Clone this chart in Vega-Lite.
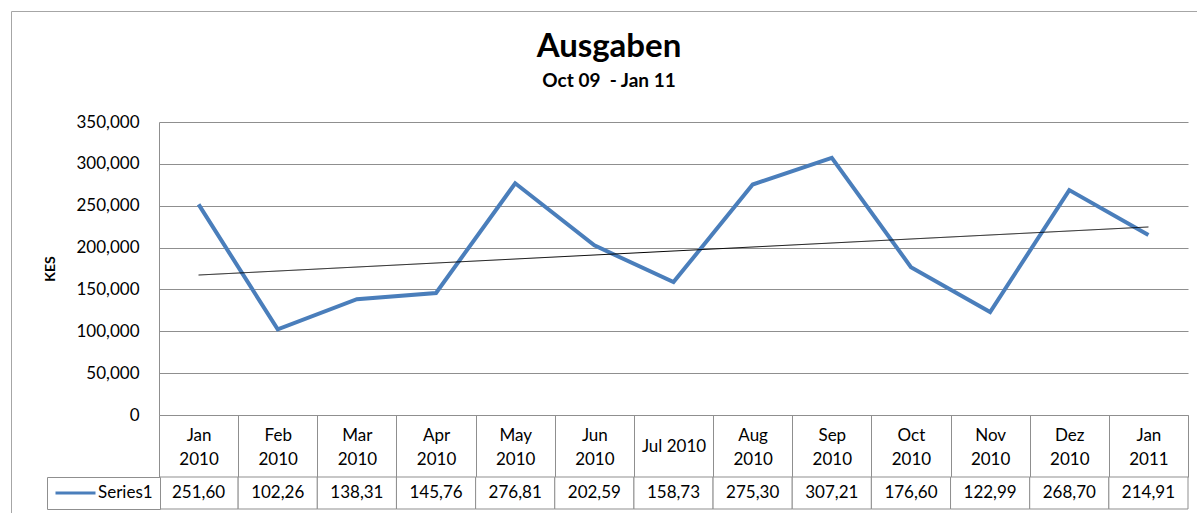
{
  "$schema": "https://vega.github.io/schema/vega-lite/v6.json",
  "background": "white",
  "padding": {"left": 10, "top": 10, "right": 8, "bottom": 4},
  "autosize": {"type": "pad"},
  "bounds": "flush",
  "spacing": 62,
  "title": {
    "text": "Ausgaben",
    "subtitle": "Oct 09\u00a0 - Jan 11",
    "font": "Lato",
    "fontSize": 33,
    "fontWeight": "bold",
    "color": "black",
    "subtitleFont": "Lato",
    "subtitleFontSize": 19,
    "subtitleFontWeight": "bold",
    "subtitleColor": "black",
    "subtitlePadding": 8,
    "anchor": "middle",
    "dx": -50,
    "offset": -80
  },
  "datasets": {
    "main": [
      {"month": "Jan 2010", "value": 251600, "label": "251,60", "series": "Series1"},
      {"month": "Feb 2010", "value": 102260, "label": "102,26", "series": "Series1"},
      {"month": "Mar 2010", "value": 138310, "label": "138,31", "series": "Series1"},
      {"month": "Apr 2010", "value": 145760, "label": "145,76", "series": "Series1"},
      {"month": "May 2010", "value": 276810, "label": "276,81", "series": "Series1"},
      {"month": "Jun 2010", "value": 202590, "label": "202,59", "series": "Series1"},
      {"month": "Jul 2010", "value": 158730, "label": "158,73", "series": "Series1"},
      {"month": "Aug 2010", "value": 275300, "label": "275,30", "series": "Series1"},
      {"month": "Sep 2010", "value": 307210, "label": "307,21", "series": "Series1"},
      {"month": "Oct 2010", "value": 176600, "label": "176,60", "series": "Series1"},
      {"month": "Nov 2010", "value": 122990, "label": "122,99", "series": "Series1"},
      {"month": "Dez 2010", "value": 268700, "label": "268,70", "series": "Series1"},
      {"month": "Jan 2011", "value": 214910, "label": "214,91", "series": "Series1"}
    ],
    "trend": [
      {"month": "Jan 2010", "value": 167200, "kind": "Linear (Series1)"},
      {"month": "Jan 2011", "value": 224600, "kind": "Linear (Series1)"}
    ]
  },
  "vconcat": [
    {
      "width": 1029,
      "height": 293,
      "layer": [
        {
          "data": {"name": "main"},
          "mark": {"type": "line", "strokeWidth": 4, "strokeJoin": "miter"},
          "encoding": {
            "x": {
              "field": "month",
              "type": "ordinal",
              "sort": null,
              "scale": {
                "type": "band",
                "paddingInner": 0,
                "paddingOuter": 0,
                "domain": ["Jan 2010", "Feb 2010", "Mar 2010", "Apr 2010", "May 2010", "Jun 2010", "Jul 2010", "Aug 2010", "Sep 2010", "Oct 2010", "Nov 2010", "Dez 2010", "Jan 2011"]
              },
              "axis": {
                "title": null,
                "orient": "bottom",
                "tickBand": "extent",
                "tickSize": 62,
                "tickColor": "#8f8f8f",
                "domainColor": "#8f8f8f",
                "labelAngle": 0,
                "labelBaseline": "middle",
                "labelPadding": {"condition": {"test": "datum.label == 'Jul 2010'", "value": -31}, "value": -42},
                "labelLineHeight": 24,
                "labelFont": "Lato",
                "labelFontSize": 17,
                "labelColor": "black",
                "labelExpr": "datum.label == 'Jul 2010' ? datum.label : split(datum.label, ' ')"
              }
            },
            "y": {
              "field": "value",
              "type": "quantitative",
              "scale": {"domain": [0, 350000], "nice": false},
              "axis": {
                "title": "KES",
                "titleFont": "Lato",
                "titleFontSize": 14,
                "titleFontWeight": "bold",
                "titleColor": "black",
                "titlePadding": 16,
                "minExtent": 86,
                "maxExtent": 86,
                "values": [0, 50000, 100000, 150000, 200000, 250000, 300000, 350000],
                "format": ",.0f",
                "ticks": false,
                "labelPadding": 20,
                "labelFont": "Lato",
                "labelFontSize": 17,
                "labelColor": "black",
                "domainColor": "#8f8f8f",
                "grid": true,
                "gridColor": "#8f8f8f",
                "gridWidth": 1
              }
            },
            "color": {
              "field": "series",
              "type": "nominal",
              "scale": {"domain": ["Series1"], "range": ["#4a7ebb"]},
              "legend": {
                "orient": "none",
                "legendX": -112,
                "legendY": 355,
                "title": null,
                "symbolType": "stroke",
                "symbolSize": 1600,
                "symbolStrokeWidth": 3,
                "clipHeight": 18,
                "labelOffset": 1,
                "labelFont": "Lato",
                "labelFontSize": 17,
                "labelColor": "black",
                "strokeColor": "#8f8f8f",
                "fillColor": "white",
                "padding": 7
              }
            }
          }
        },
        {
          "data": {"name": "trend"},
          "mark": {"type": "line", "color": "black", "strokeWidth": 1},
          "encoding": {
            "x": {"field": "month", "type": "ordinal", "sort": null},
            "y": {"field": "value", "type": "quantitative"},
            "strokeDash": {
              "field": "kind",
              "type": "nominal",
              "scale": {"range": [[1, 0]]},
              "legend": {
                "orient": "none",
                "legendX": -148,
                "legendY": -111,
                "title": null,
                "labelExpr": "''",
                "symbolOpacity": 0,
                "labelOpacity": 0,
                "strokeColor": "#a6a6a6",
                "fillColor": null,
                "padding": 640
              }
            }
          }
        }
      ]
    },
    {
      "width": 1029,
      "height": 32,
      "data": {"name": "main"},
      "layer": [
        {
          "mark": {"type": "rect", "fill": "white", "stroke": "#8f8f8f", "strokeWidth": 1},
          "encoding": {
            "x": {
              "field": "month",
              "type": "ordinal",
              "sort": null,
              "scale": {"type": "band", "paddingInner": 0, "paddingOuter": 0},
              "axis": null
            }
          }
        },
        {
          "mark": {"type": "text", "font": "Lato", "fontSize": 17, "color": "black"},
          "encoding": {
            "x": {"field": "month", "type": "ordinal", "sort": null},
            "text": {"field": "label"}
          }
        }
      ]
    }
  ],
  "config": {
    "view": {"stroke": null},
    "font": "Lato"
  }
}
